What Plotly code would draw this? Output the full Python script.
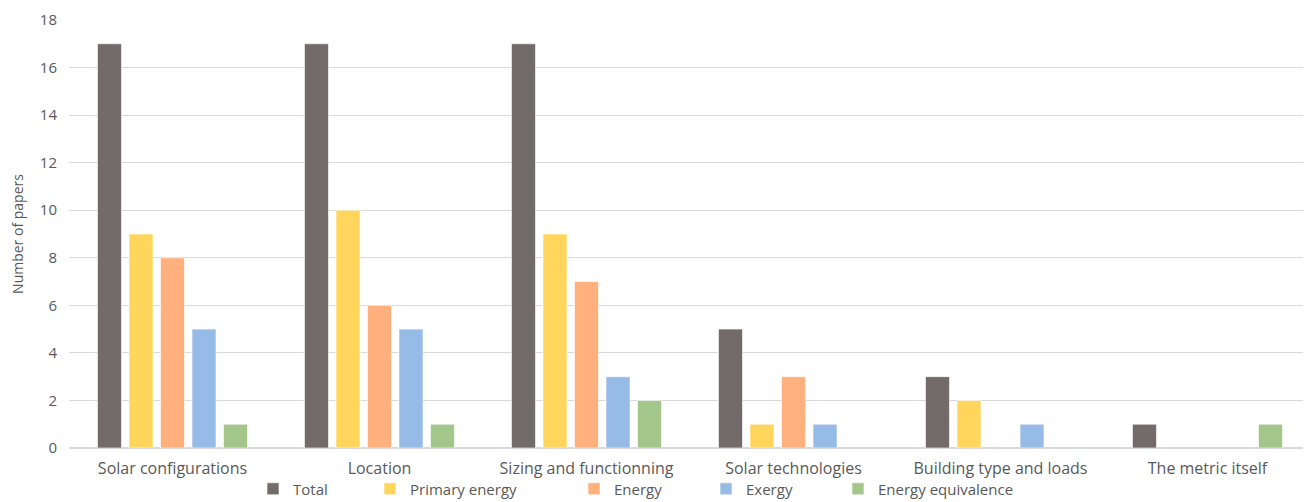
import plotly.graph_objects as go

categories = ["Solar configurations", "Location", "Sizing and functionning",
              "Solar technologies", "Building type and loads", "The metric itself"]
series_names = ["Total", "Primary energy", "Energy", "Exergy", "Energy equivalence"]
total = [17, 17, 17, 5, 3, 1]
primary_energy = [9, 10, 9, 1, 2, 0]
energy = [8, 6, 7, 3, 0, 0]
exergy = [5, 5, 3, 1, 1, 0]
energy_equivalence = [1, 1, 2, 0, 0, 1]
y_ticks = list(range(0, 19, 2))

values = [total, primary_energy, energy, exergy, energy_equivalence]
colors = ["#736B6A", "#FFD65B", "#FFB07D", "#95BBE6", "#A3C68B"]

# page has an 8px body margin; size the figure so it fits the 1311x502 window
W, H = 1303, 494
ML, MR, MT, MB = 61, 0, 12, 54
PW = W - ML - MR
PH = H - MT - MB
# legend left edges in page pixels (Excel-like individual placement)
legend_px = [253, 370, 574, 706, 838]
legend_ids = ["legend", "legend2", "legend3", "legend4", "legend5"]

FONT = "Open Sans"
TXT = "#595959"
fig = go.Figure()
for name, vals, col, lid in zip(series_names, values, colors, legend_ids):
    fig.add_trace(go.Bar(
        name=name, x=categories, y=vals, legend=lid,
        marker=dict(color=col,
                    line=dict(color="rgba(255,255,255,0.6)",
                              width=[1 if v else 0 for v in vals])),
    ))

legend_y = -(489 - 8 - (H - MB)) / PH
layout_legends = {}
for lid, px in zip(legend_ids, legend_px):
    layout_legends[lid] = dict(
        orientation="h", x=(px - 8 - ML) / PW, xanchor="left", y=legend_y, yanchor="middle",
        font=dict(family=FONT, size=15, color=TXT), bgcolor="rgba(0,0,0,0)",
        borderwidth=0, itemwidth=30,
    )

fig.update_layout(
    width=W, height=H,
    margin=dict(l=ML, r=MR, t=MT, b=MB, autoexpand=False),
    paper_bgcolor="white", plot_bgcolor="white",
    barmode="group", bargap=0.239, bargroupgap=0.238,
    font=dict(family=FONT, size=15, color=TXT),
    showlegend=True,
    **layout_legends,
)
fig.update_xaxes(showgrid=False, showline=True, linecolor="#D9D9D9", linewidth=1,
                 ticks="", automargin=False, ticklabelstandoff=6,
                 tickfont=dict(family=FONT, size=16, color=TXT))
fig.update_yaxes(range=[0, 18], tickvals=y_ticks, showgrid=True, gridcolor="#D9D9D9",
                 gridwidth=1, zeroline=True, zerolinecolor="#D9D9D9", showline=False,
                 ticks="", automargin=False, ticklabelstandoff=11,
                 tickfont=dict(family=FONT, size=15, color=TXT),
                 title=dict(text="Number of papers", font=dict(family=FONT, size=14, color=TXT),
                            standoff=13))

fig.write_html("out.html")
